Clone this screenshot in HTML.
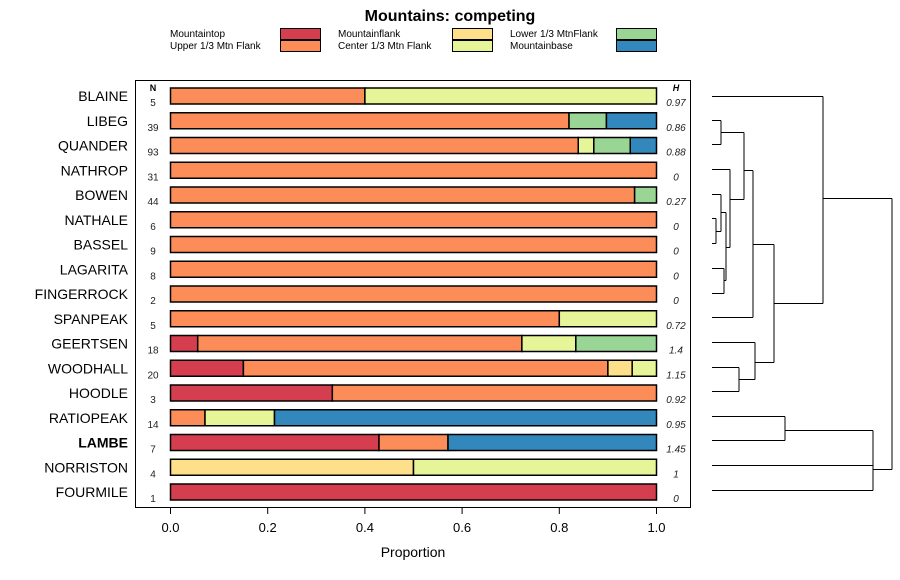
<!DOCTYPE html>
<html><head><meta charset="utf-8"><style>
body{margin:0;background:#fff;}
svg{display:block;font-family:"Liberation Sans",sans-serif;}
</style></head><body>
<svg id="chart" width="900" height="580" xmlns="http://www.w3.org/2000/svg">
<text x="450" y="21" text-anchor="middle" font-size="16" font-weight="bold">Mountains: competing</text>
<g id="legend"></g>
<rect x="135.5" y="80.5" width="555" height="427" fill="none" stroke="#000" stroke-width="1"/>
<g id="bars"></g>
<g id="axis"></g>
<text x="413" y="557" text-anchor="middle" font-size="14">Proportion</text>
<text x="153" y="91" text-anchor="middle" font-size="9" font-weight="bold">N</text>
<text x="676" y="91" text-anchor="middle" font-size="9" font-weight="bold" font-style="italic">H</text>
<g id="dendro" stroke="#000" stroke-width="1" fill="none"></g>
</svg>
<script>
const categories=["Mountaintop","Upper 1/3 Mtn Flank","Mountainflank","Center 1/3 Mtn Flank","Lower 1/3 MtnFlank","Mountainbase"];
const colors=["#d53e4f","#fc8d59","#fee08b","#e6f598","#99d594","#3288bd"];
const sites=["BLAINE","LIBEG","QUANDER","NATHROP","BOWEN","NATHALE","BASSEL","LAGARITA","FINGERROCK","SPANPEAK","GEERTSEN","WOODHALL","HOODLE","RATIOPEAK","LAMBE","NORRISTON","FOURMILE"];
const nValues=[5,39,93,31,44,6,9,8,2,5,18,20,3,14,7,4,1];
const hValues=["0.97","0.86","0.88","0","0.27","0","0","0","0","0.72","1.4","1.15","0.92","0.95","1.45","1","0"];
const props=[
[0,0.4,0,0.6,0,0],
[0,0.82,0,0,0.077,0.103],
[0,0.839,0,0.032,0.075,0.054],
[0,1,0,0,0,0],
[0,0.955,0,0,0.045,0],
[0,1,0,0,0,0],
[0,1,0,0,0,0],
[0,1,0,0,0,0],
[0,1,0,0,0,0],
[0,0.8,0,0.2,0,0],
[0.056,0.667,0,0.111,0.166,0],
[0.15,0.75,0.05,0.05,0,0],
[0.333,0.667,0,0,0,0],
[0,0.071,0,0.143,0,0.786],
[0.429,0.142,0,0,0,0.429],
[0,0,0.5,0.5,0,0],
[1,0,0,0,0,0]];
const ticks=[0,0.2,0.4,0.6,0.8,1.0];
const tickLabels=["0.0","0.2","0.4","0.6","0.8","1.0"];
const boldSite="LAMBE";

const NS="http://www.w3.org/2000/svg";
const X0=170.5,X1=656.5;
const xs=v=>X0+(X1-X0)*v;
const Y0=96,STEP=24.75;
const ys=i=>Y0+i*STEP;
function mk(tag,attrs,parent,text){const e=document.createElementNS(NS,tag);for(const k in attrs)e.setAttribute(k,attrs[k]);if(text!==undefined)e.textContent=text;parent.appendChild(e);return e;}

const lg=document.getElementById('legend');
const lpos=[[170,280],[338,452],[510,616]];
categories.forEach((c,i)=>{
  const col=Math.floor(i/2),row=i%2;
  const y=28+row*12;
  const t=mk('text',{x:lpos[col][0],y:y+9,'font-size':'10'},lg,c);
  
  
  const r=mk('rect',{x:lpos[col][1]+0.5,y:y+0.5,width:40,height:11,fill:colors[i],stroke:'#000','stroke-width':1},lg);
  
  
});

const bg=document.getElementById('bars');
sites.forEach((s,i)=>{
  const cy=ys(i);
  const lab=mk('text',{x:128,y:cy+5,'text-anchor':'end','font-size':'14','font-weight':s===boldSite?'bold':'normal'},bg,s);
  
  
  const nt=mk('text',{x:153,y:cy+10,'text-anchor':'middle','font-size':'10',fill:'#222'},bg,String(nValues[i]));
  
  
  const ht=mk('text',{x:676,y:cy+10,'text-anchor':'middle','font-size':'10','font-style':'italic',fill:'#222'},bg,hValues[i]);
  
  
  let acc=0;
  props[i].forEach((p,k)=>{
    if(p<=0)return;
    const r=mk('rect',{x:xs(acc),y:cy-8,width:xs(acc+p)-xs(acc),height:16,fill:colors[k],stroke:'#000','stroke-width':1.5},bg);
    
    
    acc+=p;
  });
});

const ax=document.getElementById('axis');
ticks.forEach((t,i)=>{
  const x=xs(t);
  const l=mk('line',{x1:x,y1:508,x2:x,y2:514,stroke:'#000'},ax);
  
  
  const tx=mk('text',{x:x,y:532,'text-anchor':'middle','font-size':'13'},ax,tickLabels[i]);
  
  
});

const segs=[
[712,96,823,96],[712,120,721,120],[712,144,721,144],[721,120,721,144],
[721,132,744,132],[712,169,730,169],[712,194,721,194],[712,218,716,218],[712,243,716,243],[716,218,716,243],
[716,231,721,231],[721,194,721,231],[721,212,726,212],[712,268,724,268],[712,293,724,293],[724,268,724,293],
[724,280,726,280],[726,212,726,280],[726,247,730,247],[730,169,730,247],[730,199,744,199],[744,132,744,199],
[744,170,753,170],[712,317,753,317],[753,170,753,317],[753,244,774,244],
[712,342,755,342],[712,367,739,367],[712,391,739,391],[739,367,739,391],[739,379,755,379],[755,342,755,379],[755,362,774,362],
[774,244,774,362],[774,303,823,303],[823,96,823,303],[823,198,892,198],
[712,416,785,416],[712,440,785,440],[785,416,785,440],[785,430,873,430],[712,465,873,465],[712,490,873,490],[873,430,873,490],[873,469,892,469],[892,198,892,469]];
const dg=document.getElementById('dendro');
segs.forEach(s=>{
  const l=mk('line',{x1:s[0],y1:s[1]+0.5,x2:s[2],y2:s[3]+0.5},dg);
  
  
});
</script>
</body></html>
